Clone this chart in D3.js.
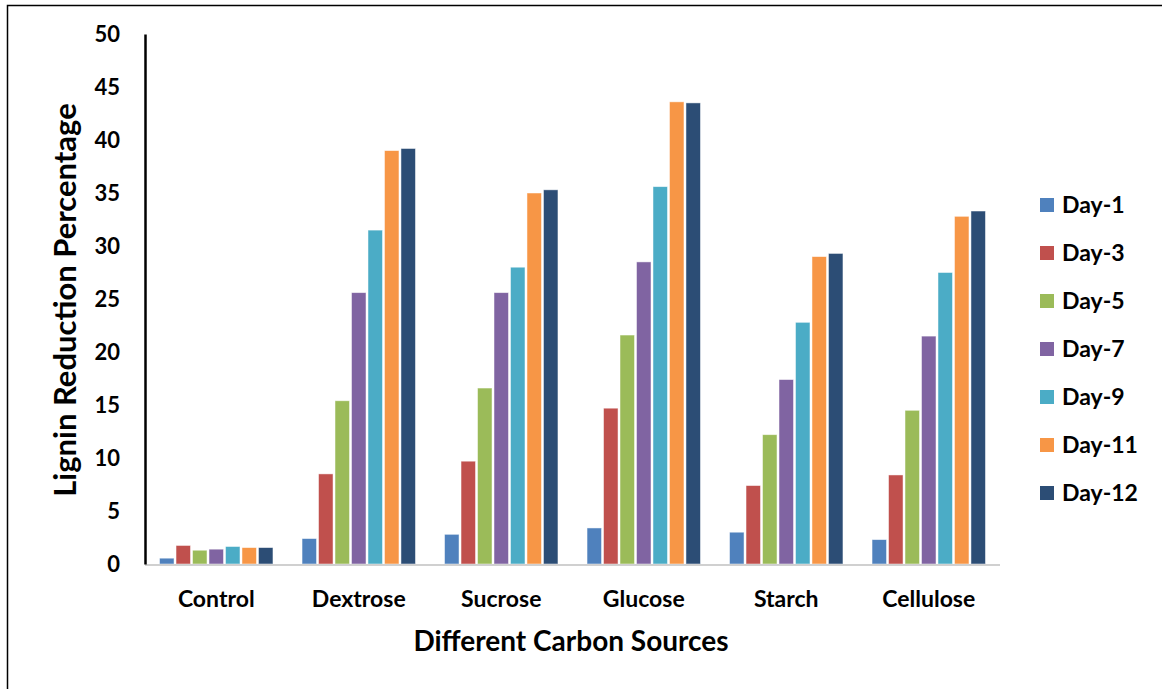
<!DOCTYPE html>
<html>
<head>
<meta charset="utf-8">
<script src="https://cdn.jsdelivr.net/npm/d3@7"></script>
<style>
  body { margin: 0; background: #fff; }
  svg text { font-family: Lato, "Open Sans", sans-serif; font-weight: bold; fill: #000; }
</style>
</head>
<body>
<div id="chart"></div>
<script>
var categories = ["Control", "Dextrose", "Sucrose", "Glucose", "Starch", "Cellulose"];
var seriesNames = ["Day-1", "Day-3", "Day-5", "Day-7", "Day-9", "Day-11", "Day-12"];
var colors = ["#4F81BD", "#C0504D", "#9BBB59", "#8064A2", "#4BACC6", "#F79646", "#2C4D75"];
// one array per day, values in category order
var day1  = [0.55, 2.4, 2.8, 3.4, 3.0, 2.3];
var day3  = [1.75, 8.5, 9.7, 14.7, 7.4, 8.4];
var day5  = [1.3, 15.4, 16.6, 21.6, 12.2, 14.5];
var day7  = [1.4, 25.6, 25.6, 28.5, 17.4, 21.5];
var day9  = [1.65, 31.5, 28.0, 35.6, 22.8, 27.5];
var day11 = [1.55, 39.0, 35.0, 43.6, 29.0, 32.8];
var day12 = [1.55, 39.2, 35.3, 43.5, 29.3, 33.3];
var yTicks = [0, 5, 10, 15, 20, 25, 30, 35, 40, 45, 50];

var Chart = {
  W: 1162,
  H: 689,
  svg: null,

  build: function(){
    this.svg = d3.select("#chart").append("svg")
      .attr("width", this.W)
      .attr("height", this.H);

    // frame lines (top and left of the picture)
    this.svg.append("path")
      .attr("d", "M7.5,689 L7.5,5.5 L1162,5.5")
      .attr("fill", "none")
      .attr("stroke", "#000")
      .attr("stroke-width", 1.5);
  },

  draw: function(){
    var series = [day1, day3, day5, day7, day9, day11, day12];
    var rows = categories.map(function(c, i){
      return { cat: c, vals: series.map(function(s, j){ return { name: seriesNames[j], v: s[i], k: j }; }) };
    });

    var x0 = d3.scaleBand().domain(categories).range([145, 1000]).paddingInner(0.19).paddingOuter(0.095);
    var x1 = d3.scaleBand().domain(seriesNames).range([0, x0.bandwidth()]).padding(0);
    var y = d3.scaleLinear().domain([0, 50]).range([564, 34]);

    var g = this.svg.append("g");
    g.selectAll("g.cat")
      .data(rows)
      .enter().append("g")
        .attr("class", "cat")
        .attr("transform", function(d){ return "translate(" + x0(d.cat) + ",0)"; })
      .selectAll("rect")
      .data(function(d){ return d.vals; })
      .enter().append("rect")
        .attr("x", function(d){ return x1(d.name) + 1; })
        .attr("width", x1.bandwidth() - 2)
        .attr("y", function(d){ return y(d.v); })
        .attr("height", function(d){ return y(0) - y(d.v); })
        .attr("fill", function(d){ return colors[d.k]; })
        .attr("stroke", "#fff")
        .attr("stroke-opacity", 0.6)
        .attr("stroke-width", 0.8);

    // baseline
    this.svg.append("line")
      .attr("x1", 145).attr("x2", 1000)
      .attr("y1", y(0) + 1).attr("y2", y(0) + 1)
      .attr("stroke", "#d0d0d0").attr("stroke-width", 2);

    // y axis
    var yAxis = d3.axisLeft(y).tickValues(yTicks).tickSize(0).tickPadding(25);
    var ya = this.svg.append("g").attr("transform", "translate(145,0)").call(yAxis);
    ya.select(".domain").attr("stroke", "#000").attr("stroke-width", 2.5);
    ya.selectAll("text").style("font-size", "22px").attr("dy", "0.35em");

    // x axis labels
    var xAxis = d3.axisBottom(x0).tickSize(0).tickPadding(0);
    var xa = this.svg.append("g").attr("transform", "translate(0,599)").call(xAxis);
    xa.select(".domain").remove();
    xa.selectAll("text").style("font-size", "23px").attr("dy", "0.36em");

    // titles
    this.svg.append("text")
      .attr("x", 571).attr("y", 651)
      .attr("text-anchor", "middle")
      .style("font-size", "28px")
      .text("Different Carbon Sources");

    this.svg.append("text")
      .attr("transform", "translate(76,300) rotate(-90)")
      .attr("text-anchor", "middle")
      .style("font-size", "31px")
      .text("Lignin Reduction Percentage");
  },

  legend: function(){
    var lg = this.svg.append("g").selectAll("g")
      .data(seriesNames)
      .enter().append("g")
        .attr("transform", function(d, i){ return "translate(1040," + (205 + i * 48) + ")"; });
    lg.append("rect")
      .attr("x", 0).attr("y", -7)
      .attr("width", 14).attr("height", 14)
      .attr("fill", function(d, i){ return colors[i]; });
    lg.append("text")
      .attr("x", 22).attr("dy", "0.36em")
      .style("font-size", "23px")
      .text(String);
  }
};

Chart.build();
Chart.draw();
Chart.legend();
</script>
</body>
</html>
